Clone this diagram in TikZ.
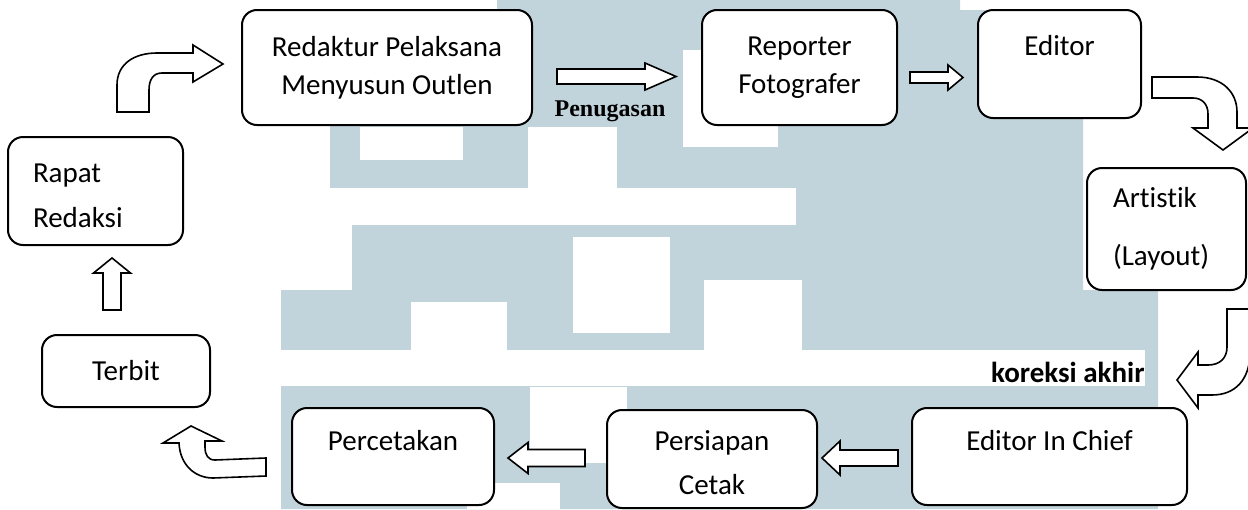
\documentclass[tikz,border=0pt]{standalone}
\usepackage{fontspec}
\setmainfont{Carlito}[Ligatures={NoCommon}]
\newfontfamily\timesfont{Liberation Serif}
\usetikzlibrary{calc}
\definecolor{watermark}{RGB}{194,212,219}

\newcommand{\BlockArrow}[5]{
\coordinate (#1Head) at ($(#2)!#5!(#1)$);
\draw[blockarrow] ($(#1)!#3!90:(#2)$) -- ($(#1Head)!#3!90:(#2)$) -- ($(#1Head)!#4!90:(#2)$)
  -- (#2) -- ($(#1Head)!#4!-90:(#2)$) -- ($(#1Head)!#3!-90:(#2)$) -- ($(#1)!#3!-90:(#2)$) -- cycle;
}
\newcommand{\Lower}[2]{\raisebox{-#1}[\height][\depth]{#2}}

\begin{document}
\begin{tikzpicture}[x=0.5pt, y=-0.5pt,
box/.style={draw, fill=white, rounded corners=7.5pt, line width=1pt, inner sep=0,
  font=\fontsize{14.5}{19}\selectfont, align=center},
blockarrow/.style={draw, fill=white, line width=.8pt, line join=miter},
]

%%%%%%%%%%%% SIZE OF THE PICTURE %%%%%%%%%%%%
\useasboundingbox (0,0) rectangle (1248,509);
\fill[white] (0,0) rectangle (1248,509);

%%%%%%%%%%%% WATERMARK %%%%%%%%%%%%
\fill[watermark] (497,0) -- (960,0) -- (960,10) -- (1083,10) -- (1083,290) -- (1158,290)
  -- (1158,509) -- (281,509) -- (281,290) -- (352,290) -- (352,188) -- (330,188)
  -- (330,10) -- (497,10) -- cycle;
\foreach \xa/\ya/\xb/\yb in {250/188/796/225, 281/350/1145/386, 360/127/463/160,
  528/127/617/188, 683/50/778/147, 573/237/670/333, 411/302/507/350,
  704/280/802/350, 530/387/627/463, 467/483/560/509}
  \fill[white] (\xa,\ya) rectangle (\xb,\yb);

%%%%%%%%%%%% BOXES %%%%%%%%%%%%
\node[box, minimum width=87.5pt, minimum height=54pt, text width=62.5pt, align=left]
  (rapat) at (95.5,191) {\Lower{2.5pt}{Rapat}\\[3.5pt]\Lower{2.5pt}{Redaksi}};
\node[box, minimum width=145pt, minimum height=57.5pt] (redaktur) at (387,67.5)
  {Redaktur Pelaksana\\Menyusun Outlen};
\node[box, minimum width=97.5pt, minimum height=57.5pt] (reporter) at (799.5,67.5)
  {Reporter\\Fotografer};
\node[box, minimum width=81.5pt, minimum height=54pt] (editor) at (1059.5,64)
  {Editor\\~};
\node[box, minimum width=79.5pt, minimum height=61pt, text width=53.5pt, align=left]
  (artistik) at (1166.5,229) {Artistik\\[10pt](Layout)};
\node[box, minimum width=137.5pt, minimum height=48.5pt] (chief) at (1049.5,456.5)
  {\Lower{1.5pt}{Editor In Chief}\\~};
\node[box, minimum width=105pt, minimum height=49pt] (persiapan) at (712,459)
  {\Lower{2pt}{Persiapan}\\[3pt]\Lower{2pt}{Cetak}};
\node[box, minimum width=101pt, minimum height=48.5pt] (percetakan) at (393,456.5)
  {\Lower{1.5pt}{Percetakan}\\~};
\node[box, minimum width=84pt, minimum height=36pt] (terbit) at (126,371) {Terbit};

%%%%%%%%%%%% LABELS %%%%%%%%%%%%
\node[font=\timesfont\bfseries\fontsize{12}{14}\selectfont, inner sep=0] (penugasan)
  at (610,111) {Penugasan};
\node[anchor=east, font=\bfseries\fontsize{14.5}{17}\selectfont, inner sep=0] (koreksi)
  at (1145,372) {koreksi akhir};

%%%%%%%%%%%% STRAIGHT ARROWS %%%%%%%%%%%%
\coordinate (PenugasanStart) at (557,76.5);
\coordinate (PenugasanEnd) at (676,76.5);
\BlockArrow{PenugasanStart}{PenugasanEnd}{3.75pt}{6.75pt}{15.5pt}
\coordinate (EditorStart) at (910,77.5);
\coordinate (EditorEnd) at (963,77.5);
\BlockArrow{EditorStart}{EditorEnd}{2.75pt}{6.25pt}{7.5pt}
\coordinate (CetakStart) at (898,458);
\coordinate (CetakEnd) at (822,458);
\BlockArrow{CetakStart}{CetakEnd}{4pt}{8.5pt}{9pt}
\coordinate (PercetakanStart) at (585,458);
\coordinate (PercetakanEnd) at (508,458);
\BlockArrow{PercetakanStart}{PercetakanEnd}{4.25pt}{7.75pt}{10pt}
\coordinate (RapatStart) at (112,310);
\coordinate (RapatEnd) at (112,258);
\BlockArrow{RapatStart}{RapatEnd}{4.5pt}{9.25pt}{7.5pt}

%%%%%%%%%%%% CURVED ARROWS %%%%%%%%%%%%
% rapat -> redaktur
\draw[blockarrow] (117,112) -- (117,85) .. controls (117,64) and (134,53) .. (157,53)
  -- (193,53) -- (193,45) -- (223,64) -- (193,82) -- (193,73) -- (162,73)
  .. controls (153,73) and (149,80) .. (149,90) -- (149,112) -- cycle;
% editor -> artistik
\draw[blockarrow] (1152,77) -- (1197,77) .. controls (1222,77) and (1237,92) .. (1237,112)
  -- (1237,128) -- (1253,128) -- (1223,150) -- (1193,128) -- (1208,128) -- (1208,114)
  .. controls (1208,104) and (1202,98) .. (1193,98) -- (1152,98) -- cycle;
% artistik -> editor in chief
\draw[blockarrow] (1227,309) -- (1227,347) .. controls (1227,358) and (1220,365) .. (1208,365)
  -- (1198,365) -- (1198,352) -- (1177,380) -- (1198,408) -- (1198,395) -- (1212,395)
  .. controls (1235,395) and (1250,380) .. (1250,352) -- (1250,309) -- cycle;
% percetakan -> terbit
\draw[blockarrow] (266,458) -- (215,460) .. controls (208,460) and (205,455) .. (205,447)
  -- (205,441) -- (222,441) -- (191,426) -- (163,443) -- (179,443)
  .. controls (180,465) and (195,478) .. (213,478) -- (266,476) -- cycle;

\end{tikzpicture}
\end{document}
